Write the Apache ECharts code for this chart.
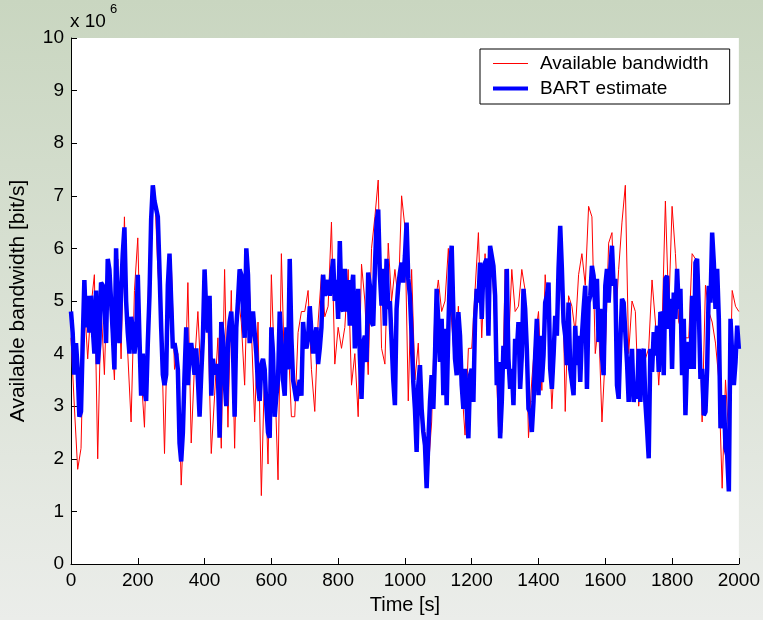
<!DOCTYPE html>
<html>
<head>
<meta charset="utf-8">
<script src="https://cdn.jsdelivr.net/npm/echarts@6/dist/echarts.min.js"></script>
<style>
  html, body { margin: 0; padding: 0; }
  body { width: 763px; height: 620px; background: linear-gradient(#c9d6c0, #ebedea); }
  #chart { width: 763px; height: 620px; }
</style>
</head>
<body>
<div id="chart"></div>
<script>
// values in units of 10^6 bit/s, sampled every RED_STEP / BLUE_STEP seconds
const RED_STEP = 10
const BLUE_STEP = 5
const availableBw = [
  4.3,3.0,1.8,2.2,5.0,3.9,4.9,5.5,2.0,4.9, 3.6,5.7,4.6,3.5,5.8,3.9,6.6,4.0,2.7,5.2,
  6.2,3.6,2.6,4.9,6.9,7.2,5.6,4.6,2.1,4.8, 5.8,3.7,4.0,1.5,3.0,5.35,2.3,3.8,4.8,3.4,
  4.8,4.6,2.1,3.2,4.3,2.2,5.6,2.6,5.2,2.2, 5.1,4.6,3.4,5.8,4.5,2.7,4.6,1.3,3.8,1.9,
  5.5,3.6,1.6,5.9,3.5,4.3,2.8,2.8,4.4,4.8, 4.8,5.2,3.7,2.9,4.6,5.5,4.7,4.9,6.5,3.8,
  4.5,4.1,4.5,5.6,3.4,4.0,2.8,5.7,5.0,3.6, 6.0,6.6,7.3,4.1,3.8,6.1,5.0,5.6,5.0,7.0,
  6.4,3.1,5.6,3.5,4.2,2.6,2.5,1.8,2.7,4.9, 5.4,4.8,5.0,6.0,4.6,3.7,4.9,3.4,2.45,4.1,
  4.1,5.2,6.3,4.3,5.9,4.4,5.9,4.4,2.6,2.5, 5.6,4.1,5.6,4.8,4.9,5.6,5.2,2.4,3.5,4.3,
  4.8,3.3,5.5,4.5,2.95,4.2,5.9,6.2,2.9,5.1, 4.9,4.4,5.5,5.9,5.3,6.8,6.6,4.0,4.6,2.7,
  4.0,6.1,6.3,4.5,5.6,6.5,7.2,4.0,5.0,4.8, 3.0,3.8,3.9,4.1,5.4,4.6,3.4,4.5,6.9,4.8,
  6.8,5.9,4.6,4.4,4.3,4.3,5.9,5.8,5.5,2.7, 5.3,4.8,4.6,4.2,3.5,1.44,3.5,2.4,5.2,4.9,
  4.8
]
const bartEstimate = [
  // 0 - 395 s
  4.8,4.4,3.6,4.2,3.7,2.8,2.9,4.2,5.4,4.5, 5.1,4.4,5.1,4.5,4.0,5.2,3.8,4.2,5.35,5.3,
  5.0,4.2,5.8,5.6,5.0,4.4,3.7,6.0,4.8,4.2, 5.2,5.9,6.4,5.0,4.4,4.0,4.7,4.5,4.0,4.3,
  5.5,4.3,3.2,4.0,3.3,3.1,4.2,5.1,6.55,7.2, 6.9,6.9,6.6,5.6,4.5,3.6,3.4,3.6,5.3,5.9,
  5.0,4.1,4.2,4.0,3.7,2.3,1.95,2.5,3.6,4.5, 3.4,4.0,4.2,3.9,3.6,4.1,3.5,2.8,3.6,4.3,
  // 400 - 795 s
  5.6,4.8,4.4,5.1,3.2,3.9,3.6,3.8,3.6,2.4, 4.6,4.3,3.5,3.0,4.2,4.6,4.8,4.1,2.8,4.5,
  5.0,5.6,5.5,4.8,4.3,6.0,5.5,4.2,4.5,4.8, 4.4,4.0,3.4,3.1,3.8,3.9,3.7,3.0,2.5,2.4,
  4.5,4.0,2.8,3.2,3.5,4.8,4.2,3.5,3.2,4.5, 3.7,5.8,4.3,3.5,3.3,3.1,3.3,3.5,3.2,4.6,
  4.2,4.1,4.3,4.9,4.4,4.0,4.3,4.5,3.8,4.1, 4.5,5.5,5.1,5.1,5.4,5.1,5.5,5.8,5.0,5.4,
  // 800 - 1195 s
  4.66,6.14,4.9,4.8,5.61,4.8,5.4,4.53,5.2,5.5, 4.1,4.5,5.23,3.96,3.14,4.2,4.34,3.84,5.54,5.29,
  4.6,4.53,5.61,6.5,6.74,5.5,4.91,5.61,4.53,5.8, 4.85,5.0,4.97,3.5,3.02,4.85,5.29,5.54,5.73,5.35,
  5.86,6.49,5.42,5.1,4.34,3.46,2.95,2.13,3.4,3.78, 2.95,2.51,2.26,1.44,2.32,3.08,3.59,2.95,3.96,5.23,
  4.6,3.84,4.66,3.21,4.47,3.02,4.47,5.61,6.05,4.79, 3.9,3.59,4.79,4.34,3.4,2.95,3.71,2.95,2.39,3.59,
  // 1200 - 1595 s
  3.71,3.08,4.66,5.23,4.97,5.73,4.66,5.61,5.73,5.8, 4.34,6.05,6.05,5.67,5.1,3.4,3.84,2.39,3.08,4.15,
  3.71,5.61,3.9,3.33,3.71,3.02,4.28,4.03,4.6,3.33, 3.96,5.23,4.85,4.09,2.95,2.89,2.51,3.08,3.96,4.66,
  3.21,4.34,3.46,3.96,4.97,5.1,5.35,3.71,3.33,3.96, 4.72,4.34,5.61,6.43,5.61,4.6,4.34,3.78,4.97,3.71,
  3.46,3.21,4.53,3.78,4.34,3.46,4.34,4.85,5.29,3.33, 4.97,5.1,5.67,5.48,4.85,5.42,4.22,4.85,3.96,3.59,
  // 1600 - 2000 s
  5.29,5.61,4.97,5.61,6.05,5.29,5.42,3.4,3.14,4.22, 5.04,4.97,4.97,3.84,3.08,3.71,4.09,3.08,3.46,3.14,
  4.09,3.08,3.96,4.09,3.08,2.58,2.01,4.09,3.65,4.41, 3.96,4.53,3.65,4.79,4.72,3.59,5.42,5.48,4.47,5.04,
  3.71,5.16,4.66,5.61,4.85,5.23,3.59,4.66,2.83,3.96, 4.22,3.71,5.1,3.71,5.73,5.8,4.85,3.52,3.71,2.83,
  2.89,3.71,5.29,4.97,6.3,5.73,4.85,5.61,4.66,2.58, 2.58,3.21,2.2,2.07,1.38,4.66,3.96,3.4,3.84,4.53,
  4.09
]
const seriesNames = ['Available bandwidth', 'BART estimate']

const font = 'Liberation Sans, Arial, sans-serif'
const toPairs = (arr, step) => arr.map((v, i) => [i * step, v])

const chart = echarts.init(document.getElementById('chart'))
chart.setOption({
  animation: false,
  grid: {
    left: 70, right: 23, top: 38, bottom: 54,
    show: true, backgroundColor: '#fff', borderWidth: 0
  },
  legend: {
    orient: 'vertical',
    left: 480, top: 49,
    padding: [5, 21, 6, 11],
    itemGap: 6,
    itemWidth: 35,
    itemHeight: 14,
    backgroundColor: '#fff',
    borderColor: '#000',
    borderWidth: 1,
    borderRadius: 0,
    textStyle: { fontFamily: font, fontSize: 19, color: '#000', padding: [0, 0, 0, 7] },
    data: [
      { name: seriesNames[0], itemStyle: { opacity: 0 }, lineStyle: { color: '#ff0000', width: 1 } },
      { name: seriesNames[1], itemStyle: { opacity: 0 }, lineStyle: { color: '#0000ff', width: 4 } }
    ]
  },
  xAxis: {
    type: 'value', min: 0, max: 2000, interval: 200,
    name: 'Time [s]', nameLocation: 'middle', nameGap: 31,
    nameTextStyle: { fontFamily: font, fontSize: 20, color: '#000' },
    axisLine: { lineStyle: { color: '#000' } },
    axisTick: { inside: true, length: 6, lineStyle: { color: '#000' } },
    axisLabel: { fontFamily: font, fontSize: 19, color: '#000', margin: 7, formatter: v => String(v) },
    splitLine: { show: false }
  },
  yAxis: {
    type: 'value', min: 0, max: 10, interval: 1,
    name: 'Available bandwidth [bit/s]', nameLocation: 'middle', nameGap: 42,
    nameTextStyle: { fontFamily: font, fontSize: 21, color: '#000' },
    axisLine: { show: true, lineStyle: { color: '#000' } },
    axisTick: { show: true, inside: true, length: 6, lineStyle: { color: '#000' } },
    axisLabel: { fontFamily: font, fontSize: 19, color: '#000', margin: 7 },
    splitLine: { show: false }
  },
  graphic: [
    { type: 'text', left: 70, top: 12, style: { text: 'x 10', fontFamily: font, fontSize: 19, fill: '#000' } },
    { type: 'text', left: 110, top: 3, style: { text: '6', fontFamily: font, fontSize: 13, fill: '#000' } }
  ],
  series: [
    {
      name: seriesNames[0], type: 'line', data: toPairs(availableBw, RED_STEP),
      symbol: 'none', lineStyle: { color: '#ff0000', width: 1 }, itemStyle: { color: '#ff0000' }
    },
    {
      name: seriesNames[1], type: 'line', data: toPairs(bartEstimate, BLUE_STEP),
      symbol: 'none', lineStyle: { color: '#0000ff', width: 4.5 }, itemStyle: { color: '#0000ff' }
    }
  ]
})
</script>
</body>
</html>
